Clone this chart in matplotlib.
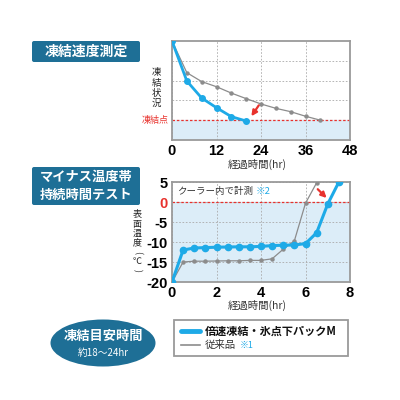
import matplotlib
matplotlib.use("Agg")
import matplotlib.pyplot as plt
from matplotlib.patches import Rectangle, Ellipse, FancyBboxPatch

plt.rcParams['font.family'] = ['Noto Sans CJK JP', 'DejaVu Sans']

# data: freezing speed (relative freezing state, freezing point = 1)
freeze_x_new = [0, 4, 8, 12, 16, 20]
freeze_y_new = [5.0, 2.98, 2.12, 1.63, 1.18, 0.96]
freeze_x_old = [0, 4, 8, 12, 16, 20, 24, 28, 32, 36, 40]
freeze_y_old = [5.0, 3.4, 2.95, 2.69, 2.37, 2.09, 1.82, 1.60, 1.43, 1.20, 1.0]
freeze_xticks = [0, 12, 24, 36, 48]

# data: surface temperature in cooler
temp_x_new = [0, 0.5, 1, 1.5, 2, 2.5, 3, 3.5, 4, 4.5, 5, 5.5, 6, 6.5, 7, 7.5]
temp_y_new = [-20, -12.0, -11.5, -11.4, -11.3, -11.25, -11.2, -11.2, -11.1,
              -10.9, -10.8, -10.75, -10.4, -7.7, -0.5, 5.0]
temp_x_old = [0, 0.5, 1, 1.5, 2, 2.5, 3, 3.5, 4, 4.5, 5, 5.5, 6, 6.5]
temp_y_old = [-20, -15.0, -14.8, -14.8, -14.75, -14.7, -14.7, -14.6, -14.6,
              -14.2, -11.8, -9.7, -0.3, 4.8]
temp_xticks = [0, 2, 4, 6, 8]
temp_yticks = [5, 0, -5, -10, -15, -20]

BLUE = '#1eaae7'
GRAY = '#8c8c8c'
RED = '#e8322d'
DARK = '#1e6f96'
FILL = '#dcedf8'
TICKFONT = dict(fontsize=10.5, fontweight='bold', family='Liberation Sans')
ARROW = dict(arrowstyle='-|>', color=RED, lw=1.6, mutation_scale=8, shrinkA=0, shrinkB=0)

fig = plt.figure(figsize=(4, 4), dpi=100)

# overlay in pixel coordinates for boxes / labels
ov = fig.add_axes([0, 0, 1, 1], zorder=0)
ov.set_xlim(0, 400)
ov.set_ylim(400, 0)
ov.axis('off')


def style_axes(ax):
    for s in ax.spines.values():
        s.set_color('#9a9a9a')
        s.set_linewidth(1.3)
    ax.tick_params(length=0)
    ax.grid(True, color='#aaaaaa', linestyle=(0, (2, 2)), linewidth=0.6)
    ax.set_axisbelow(True)


def stack_text(x, y0, chars, dy, **kw):
    for i, c in enumerate(chars):
        rot = -90 if c in '()' else 0
        ov.text(x, y0 + i * dy, c, ha='center', va='center', rotation=rot, **kw)


# ---- top chart ----
ax1 = fig.add_axes([0.43, 0.65, 0.445, 0.2475], zorder=2)
style_axes(ax1)
ax1.set_xlim(0, 48)
ax1.set_ylim(0, 5)
ax1.set_xticks(freeze_xticks)
ax1.set_xticklabels([str(v) for v in freeze_xticks], **TICKFONT)
ax1.set_yticks([2, 3, 4])
ax1.set_yticklabels([])
ax1.axhspan(0, 1, color=FILL, zorder=0)
ax1.axhline(1, color=RED, linestyle=(0, (2, 1.5)), linewidth=0.9, zorder=1)
ax1.plot(freeze_x_old, freeze_y_old, color=GRAY, lw=0.9, marker='o', ms=2.2, zorder=3)
ax1.plot(freeze_x_new, freeze_y_new, color=BLUE, lw=2.0, marker='o', ms=4, zorder=4)
ax1.annotate('', xy=(21.4, 1.2), xytext=(23.4, 1.75), arrowprops=ARROW)
ax1.tick_params(axis='x', pad=3)

# ---- bottom chart ----
ax2 = fig.add_axes([0.43, 0.295, 0.445, 0.25], zorder=2)
style_axes(ax2)
ax2.set_xlim(0, 8)
ax2.set_ylim(-20, 5)
ax2.set_xticks(temp_xticks)
ax2.set_xticklabels([str(v) for v in temp_xticks], **TICKFONT)
ax2.set_yticks(temp_yticks)
ax2.set_yticklabels([str(v) for v in temp_yticks], **TICKFONT)
for lbl in ax2.get_yticklabels():
    if lbl.get_text() == '0':
        lbl.set_color(RED)
ax2.axhspan(-20, 0, color=FILL, zorder=0)
ax2.axhline(0, color=RED, linestyle=(0, (2, 1.5)), linewidth=0.9, zorder=1)
ax2.plot(temp_x_old, temp_y_old, color=GRAY, lw=0.9, marker='o', ms=2.2, zorder=3)
ax2.plot(temp_x_new, temp_y_new, color=BLUE, lw=2.2, marker='o', ms=4.5, zorder=4)
ax2.annotate('', xy=(6.95, 1.0), xytext=(6.55, 3.2), arrowprops=ARROW)
ax2.text(0.22, 2.6, 'クーラー内で計測', fontsize=6.8, va='center', color='#333333')
ax2.text(3.75, 2.6, '※2', fontsize=6.8, va='center', color=BLUE)
ax2.tick_params(axis='both', pad=3)

# ---- labels in pixel coords ----
ov.text(257, 164, '経過時間(hr)', ha='center', va='center', fontsize=7.5, color='#333333')
ov.text(257, 305, '経過時間(hr)', ha='center', va='center', fontsize=7.5, color='#333333')
stack_text(156, 73, '凍結状況', 10, fontsize=6.8, color='#222222')
ov.text(169, 120, '凍結点', ha='right', va='center', fontsize=6.5, color=RED)
stack_text(137, 215, '表面温度(℃)', 9.3, fontsize=6.5, color='#222222')

# title boxes
ov.add_patch(FancyBboxPatch((32, 41), 108, 21, boxstyle='round,pad=0,rounding_size=2',
                            facecolor=DARK, edgecolor='none'))
ov.text(86, 51.5, '凍結速度測定', ha='center', va='center', fontsize=10,
        fontweight='bold', color='white')
ov.add_patch(FancyBboxPatch((32, 167), 108, 38, boxstyle='round,pad=0,rounding_size=2',
                            facecolor=DARK, edgecolor='none'))
ov.text(86, 176.5, 'マイナス温度帯', ha='center', va='center', fontsize=9.5,
        fontweight='bold', color='white')
ov.text(86, 195, '持続時間テスト', ha='center', va='center', fontsize=9.5,
        fontweight='bold', color='white')

# ellipse
ov.add_patch(Ellipse((103, 343), 105, 47, facecolor=DARK, edgecolor='none'))
ov.text(103, 336, '凍結目安時間', ha='center', va='center', fontsize=9.5,
        fontweight='bold', color='white')
ov.text(103, 353, '約18〜24hr', ha='center', va='center', fontsize=7, color='white')

# legend box
ov.add_patch(Rectangle((174, 320), 174, 36, facecolor='white', edgecolor='#9a9a9a', lw=1.3))
ov.plot([181, 200], [331, 331], color=BLUE, lw=3.5, solid_capstyle='round')
ov.plot([181, 200], [345, 345], color=GRAY, lw=1.2)
ov.text(205, 331, '倍速凍結・氷点下パックM', va='center', fontsize=8, fontweight='bold',
        color='#111111')
ov.text(205, 345, '従来品', va='center', fontsize=7.5, color='#333333')
ov.text(240, 345, '※1', va='center', fontsize=6.5, color=BLUE)

fig.savefig('out.png', dpi=100)
